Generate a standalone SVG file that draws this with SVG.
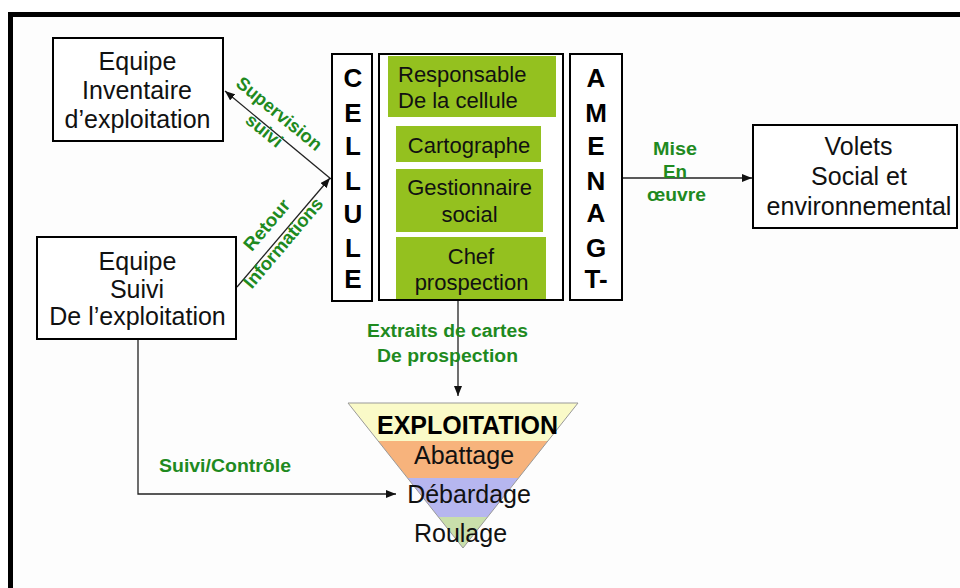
<svg xmlns="http://www.w3.org/2000/svg" width="960" height="588" viewBox="0 0 960 588">
<defs>
<marker id="ah" markerUnits="userSpaceOnUse" markerWidth="10" markerHeight="8" refX="10" refY="4" orient="auto">
<path d="M0,0 L10,4 L0,8 z" fill="#111"/>
</marker>
<style>
.box{fill:#fff;stroke:#000;stroke-width:2}
.gb{fill:#94c11f}
.t{font-family:"Liberation Sans",Arial,sans-serif;font-size:25px;fill:#111;text-anchor:middle}
.s{font-family:"Liberation Sans",Arial,sans-serif;font-size:22px;fill:#111;text-anchor:middle}
.v{font-family:"Liberation Sans",Arial,sans-serif;font-size:26px;font-weight:bold;fill:#000;text-anchor:middle}
.g{font-family:"Liberation Sans",Arial,sans-serif;font-size:18px;font-weight:bold;fill:#1f8a1f;text-anchor:middle}
.gr{font-family:"Liberation Sans",Arial,sans-serif;font-size:18.5px;font-weight:bold;fill:#1f8a1f;text-anchor:middle}
.conn{stroke:#222;stroke-width:1.3;fill:none;marker-end:url(#ah)}
.frame{fill:#000}
</style>
</defs>
<rect width="960" height="588" fill="#fff"/>
<rect x="13" y="17" width="947" height="571" fill="#fdfdfd"/>
<rect class="frame" x="8" y="12" width="952" height="5"/>
<rect class="frame" x="8" y="12" width="5" height="576"/>

<g id="connectors">
<line class="conn" x1="331" y1="179" x2="225" y2="91"/>
<line class="conn" x1="237" y1="287" x2="330" y2="178"/>
<line class="conn" x1="622" y1="178" x2="752" y2="178"/>
<line class="conn" x1="458" y1="301" x2="458" y2="396"/>
<path class="conn" d="M138,340 V494 H396"/>
</g>

<g id="labels">
<text class="gr" transform="translate(275.3,118.5) rotate(39.3)" textLength="105" lengthAdjust="spacingAndGlyphs">Supervision</text>
<text class="gr" transform="translate(260.5,135.2) rotate(39.3)" style="font-size:18px" textLength="42" lengthAdjust="spacingAndGlyphs">suivi</text>
<text class="gr" transform="translate(271.5,229) rotate(-49.8)" textLength="61" lengthAdjust="spacingAndGlyphs">Retour</text>
<text class="gr" transform="translate(288,247) rotate(-49.8)" textLength="112" lengthAdjust="spacingAndGlyphs">Informations</text>
<text class="g" x="675" y="155" textLength="44" lengthAdjust="spacingAndGlyphs">Mise</text>
<text class="g" x="675" y="178" textLength="24" lengthAdjust="spacingAndGlyphs">En</text>
<text class="g" x="676.5" y="201" textLength="59" lengthAdjust="spacingAndGlyphs">œuvre</text>
<text class="g" x="447.5" y="337" textLength="161" lengthAdjust="spacingAndGlyphs">Extraits de cartes</text>
<text class="g" x="447.5" y="362" textLength="141" lengthAdjust="spacingAndGlyphs">De prospection</text>
<text class="g" x="225" y="472" textLength="132" lengthAdjust="spacingAndGlyphs">Suivi/Contrôle</text>
</g>

<g id="equipe-inventaire">
<rect class="box" x="53" y="38" width="170" height="103"/>
<text class="t" x="137.5" y="70">Equipe</text>
<text class="t" x="137" y="99">Inventaire</text>
<text class="t" x="137.5" y="128">d’exploitation</text>
</g>

<g id="equipe-suivi">
<rect class="box" x="37" y="237" width="199" height="102"/>
<text class="t" x="137.5" y="270">Equipe</text>
<text class="t" x="137" y="298">Suivi</text>
<text class="t" x="137.5" y="325">De l’exploitation</text>
</g>

<g id="cellule">
<rect class="box" x="332" y="54" width="40" height="247"/>
<text class="v" x="353" y="87">C</text>
<text class="v" x="353" y="122">E</text>
<text class="v" x="353" y="155">L</text>
<text class="v" x="353" y="190">L</text>
<text class="v" x="353" y="223">U</text>
<text class="v" x="353" y="257">L</text>
<text class="v" x="353" y="288">E</text>
</g>

<g id="cellule-membres">
<rect class="box" x="379" y="54" width="184" height="246"/>
<rect class="gb" x="388" y="56" width="168" height="61"/>
<text class="s" x="398" y="82" style="text-anchor:start">Responsable</text>
<text class="s" x="398" y="108" style="text-anchor:start">De la cellule</text>
<rect class="gb" x="396" y="126" width="145" height="36"/>
<text class="s" x="469" y="153">Cartographe</text>
<rect class="gb" x="396" y="169" width="147" height="63"/>
<text class="s" x="469.5" y="195">Gestionnaire</text>
<text class="s" x="469.5" y="222">social</text>
<rect class="gb" x="396" y="237" width="150" height="62"/>
<text class="s" x="471" y="264">Chef</text>
<text class="s" x="471.5" y="290">prospection</text>
</g>

<g id="amenagt">
<rect class="box" x="570" y="54" width="52" height="246"/>
<text class="v" x="596" y="87">A</text>
<text class="v" x="596" y="122">M</text>
<text class="v" x="596" y="155">E</text>
<text class="v" x="596" y="190">N</text>
<text class="v" x="596" y="222">A</text>
<text class="v" x="596" y="257">G</text>
<text class="v" x="596" y="288">T-</text>
</g>

<g id="volets">
<rect class="box" x="753" y="125" width="204" height="103"/>
<text class="t" x="858.5" y="155">Volets</text>
<text class="t" x="859" y="185">Social et</text>
<text class="t" x="859" y="215">environnemental</text>
</g>

<g id="exploitation">
<polygon points="348,403 578,403 547.9,441 378.1,441" fill="#fafac8"/>
<polygon points="378.1,441 547.9,441 518.5,478 407.5,478" fill="#f7b37c"/>
<polygon points="407.5,478 518.5,478 487.6,517 438.4,517" fill="#b6b6ef"/>
<polygon points="438.4,517 487.6,517 463,548" fill="#c9dfab"/>
<polygon points="348,403 578,403 463,548" fill="none" stroke="#999" stroke-width="1"/>
<text class="t" x="467.5" y="434" style="font-weight:bold;fill:#000">EXPLOITATION</text>
<text class="t" x="464" y="464">Abattage</text>
<text class="t" x="469" y="503">Débardage</text>
<text class="t" x="460.5" y="542">Roulage</text>
</g>
</svg>
